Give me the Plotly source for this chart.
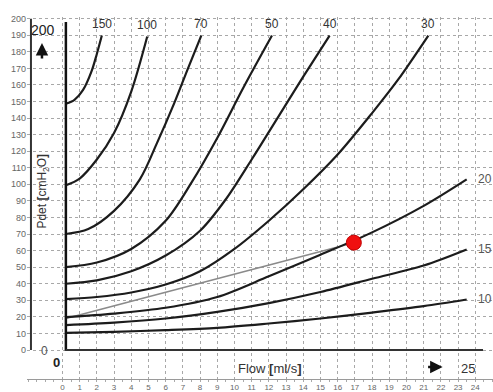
import plotly.graph_objects as go

# ---- data ----
x_ticks = list(range(0, 26))
y_ticks = list(range(0, 201, 10))

curve_labels = ["150", "100", "70", "50", "40", "30", "20", "15", "10"]

q150 = [0.2, 0.7, 1.2, 1.7, 2.0, 2.29]
p150 = [148.6, 151.0, 157.0, 168.5, 178.7, 189.8]

q100 = [0.2, 1.0, 2.0, 3.0, 4.0, 4.93]
p100 = [99.4, 103.5, 115.0, 131.0, 156.0, 189.2]

q70 = [0.2, 1.5, 3.0, 4.5, 5.5, 6.5, 7.3, 8.07]
p70 = [70.0, 73.0, 84.0, 103.0, 125.0, 149.0, 170.0, 189.8]

q50 = [0.2, 2.0, 4.0, 6.0, 7.5, 9.0, 10.5, 12.18]
p50 = [50.0, 52.8, 61.0, 78.0, 101.0, 128.0, 158.0, 189.8]

q40 = [0.2, 2.0, 4.0, 6.0, 8.0, 9.5, 11.0, 12.5, 14.0, 15.53]
p40 = [40.0, 42.0, 47.5, 57.0, 72.0, 91.0, 115.0, 140.0, 165.0, 189.8]

q30 = [0.2, 2.0, 4.0, 6.0, 8.0, 10.0, 12.0, 14.0, 16.0, 18.0, 19.5, 21.27]
p30 = [30.7, 32.0, 34.7, 39.5, 47.5, 61.0, 78.0, 97.0, 118.0, 143.0, 163.0, 189.8]

q20 = [0.2, 3.0, 6.0, 9.0, 12.0, 15.0, 18.0, 21.0, 23.5]
p20 = [19.8, 22.0, 25.5, 32.0, 44.5, 57.5, 71.0, 87.0, 103.0]

q15 = [0.2, 3.0, 6.0, 9.0, 12.0, 15.0, 18.0, 21.0, 23.5]
p15 = [15.0, 16.5, 19.0, 23.0, 28.3, 35.0, 43.0, 51.0, 60.7]

q10 = [0.2, 3.0, 6.0, 9.0, 12.0, 15.0, 18.0, 21.0, 23.5]
p10 = [10.4, 11.0, 12.0, 13.4, 16.0, 19.0, 22.6, 26.5, 30.5]

gray_q = [0.2, 16.94]
gray_p = [19.0, 64.8]

dot_q = [16.94]
dot_p = [64.8]

curves_q = [q150, q100, q70, q50, q40, q30, q20, q15, q10]
curves_p = [p150, p100, p70, p50, p40, p30, p20, p15, p10]

fig = go.Figure()

# gray line to point
fig.add_trace(go.Scatter(x=gray_q, y=gray_p, mode="lines",
                         line=dict(color="#8a8a8a", width=1.5),
                         hoverinfo="skip", showlegend=False))

for q, p in zip(curves_q, curves_p):
    fig.add_trace(go.Scatter(x=q, y=p, mode="lines",
                             line=dict(color="#1c1c1c", width=2.2,
                                       shape="spline", smoothing=0.9),
                             hoverinfo="skip", showlegend=False))

fig.add_trace(go.Scatter(x=dot_q, y=dot_p, mode="markers",
                         marker=dict(color="#f01010", size=15,
                                     line=dict(color="#c00000", width=1)),
                         hoverinfo="skip", showlegend=False))

annotations = []
# curve labels: top ones above the curve ends, lower ones right of the ends
for lab, q, p in zip(curve_labels, curves_q, curves_p):
    if p[-1] > 150:
        annotations.append(dict(x=q[-1], y=p[-1] + 7, text=lab, showarrow=False,
                                font=dict(size=12, color="#333333")))
    else:
        annotations.append(dict(x=q[-1] + 1.05, y=p[-1], text=lab, showarrow=False,
                                font=dict(size=12, color="#555555")))

annotations += [
    dict(x=-1.13, y=193.2, text="200", showarrow=False,
         font=dict(size=14, color="#222222")),
    dict(x=-1.19, y=185.3, text="", showarrow=True, ax=0, ay=17,
         arrowhead=2, arrowsize=1, arrowwidth=2.5, arrowcolor="#111111"),
    dict(x=-1.13, y=95.6, text="Pdet <b>[</b>cmH<sub>2</sub>O<b>]</b>",
         textangle=-90, showarrow=False, font=dict(size=12, color="#333333")),
    dict(x=-1.02, y=-0.6, text="0", showarrow=False,
         font=dict(size=12, color="#555555")),
    dict(x=-0.32, y=-7.8, text="<b>0</b>", showarrow=False,
         font=dict(size=13, color="#222222")),
    dict(x=12.06, y=-10.9, text="Flow <b>[</b>ml/s<b>]</b>", showarrow=False,
         font=dict(size=13, color="#333333")),
    dict(x=22.1, y=-10.3, text="", showarrow=True, ax=-16, ay=0,
         arrowhead=2, arrowsize=1, arrowwidth=2.5, arrowcolor="#111111"),
    dict(x=23.6, y=-10.9, text="25", showarrow=False,
         font=dict(size=13, color="#333333")),
]

shapes = [
    # nomogram axes
    dict(type="line", x0=0.2, x1=0.2, y0=-0.5, y1=198, xref="x", yref="y",
         line=dict(color="#111111", width=2.5)),
    dict(type="line", x0=0.2, x1=24.45, y0=0, y1=0, xref="x", yref="y",
         line=dict(color="#333333", width=2)),
    dict(type="line", x0=-1.83, x1=-1.83, y0=0, y1=200, xref="x", yref="y",
         line=dict(color="#333333", width=2)),
]

fig.update_layout(
    width=493, height=392,
    margin=dict(l=27, r=0, t=17, b=13),
    paper_bgcolor="white", plot_bgcolor="white",
    font=dict(family="Liberation Sans, Arial, sans-serif"),
    annotations=annotations, shapes=shapes,
    xaxis=dict(range=[-2.06, 25.03], tickvals=x_ticks,
               ticktext=[str(v) for v in x_ticks],
               showgrid=True, gridcolor="#a8a8a8", griddash="dot", gridwidth=1,
               zeroline=False, showline=True, linecolor="#9a9a9a", linewidth=1,
               ticks="",
               minor=dict(dtick=0.5, ticks="outside", ticklen=2,
                          tickcolor="#aaaaaa", showgrid=False),
               tickfont=dict(size=8, color="#666666"), fixedrange=True),
    yaxis=dict(range=[-17.5, 201], tickvals=y_ticks,
               showgrid=True, gridcolor="#a8a8a8", griddash="dot", gridwidth=1,
               zeroline=False, showline=False, ticks="",
               tickfont=dict(size=9, color="#666666"), fixedrange=True),
)

fig.write_html("out.html", config={"displayModeBar": False},
               post_script="document.body.style.margin='0';"
                           "document.body.style.padding='0';"
                           "document.body.style.overflow='hidden';")
